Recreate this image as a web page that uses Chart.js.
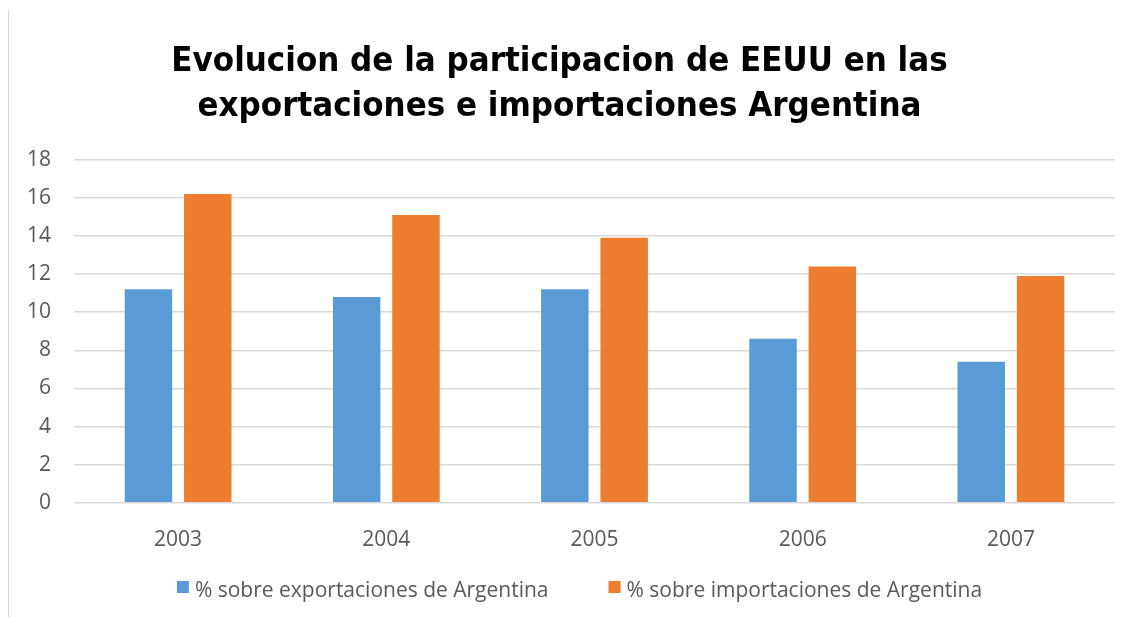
<!DOCTYPE html>
<html>
<head>
<meta charset="utf-8">
<script src="https://cdn.jsdelivr.net/npm/chart.js@4"></script>
<style>
  html, body { margin: 0; padding: 0; background: #fff; }
  #wrap { position: relative; width: 1131px; height: 617px; }
  #edge { position: absolute; left: 8px; top: 10px; width: 1px; height: 607px; background: #d9d9d9; }
</style>
</head>
<body>
<div id="wrap">
  <div id="edge"></div>
  <canvas id="chart" width="1131" height="617"></canvas>
</div>
<script>
const years = ['2003', '2004', '2005', '2006', '2007'];
const exportShare = [11.2, 10.8, 11.2, 8.6, 7.4];
const importShare = [16.2, 15.1, 13.9, 12.4, 11.9];

const tickColor = '#595959';
const gridColor = '#d9d9d9';
const textFont = 'Open Sans';

// legend drawn by hand so the gap between the two entries can match
const bottomLegend = {
  id: 'bottomLegend',
  afterDraw(chart) {
    const ctx = chart.ctx;
    const box = 12, gapText = 6, gapItem = 60, y = 591;
    ctx.save();
    ctx.font = '21px "' + textFont + '"';
    ctx.textBaseline = 'middle';
    const items = chart.data.datasets.map(ds => ({
      text: ds.label, color: ds.backgroundColor, w: ctx.measureText(ds.label).width
    }));
    let total = items.reduce((s, it) => s + box + gapText + it.w, 0) + gapItem * (items.length - 1);
    let x = chart.width / 2 + 14 - total / 2;
    items.forEach(it => {
      ctx.fillStyle = it.color;
      ctx.fillRect(x, y - 10, box, box);
      ctx.fillStyle = tickColor;
      ctx.fillText(it.text, x + box + gapText, y);
      x += box + gapText + it.w + gapItem;
    });
    ctx.restore();
  }
};

new Chart(document.getElementById('chart'), {
  type: 'bar',
  data: {
    labels: years,
    datasets: [
      { label: '% sobre exportaciones de Argentina', data: exportShare, backgroundColor: '#5b9bd5',
        categoryPercentage: 0.57, barPercentage: 0.8 },
      { label: '% sobre importaciones de Argentina', data: importShare, backgroundColor: '#ed7d31',
        categoryPercentage: 0.57, barPercentage: 0.8 }
    ]
  },
  options: {
    responsive: false,
    animation: false,
    layout: { padding: { left: 4, right: 16, top: 40, bottom: 39 } },
    plugins: {
      title: {
        display: true,
        text: ['Evolucion de la participacion de EEUU en las', 'exportaciones e importaciones Argentina'],
        color: '#000',
        font: { family: 'DejaVu Sans Condensed', size: 34.5, weight: 'bold', lineHeight: 1.3 },
        padding: { top: 0, bottom: 30 }
      },
      legend: { display: false },
      tooltip: { enabled: false }
    },
    scales: {
      x: {
        grid: { display: false, drawTicks: false },
        border: { display: false },
        ticks: { color: tickColor, font: { family: textFont, size: 21 }, padding: 25 }
      },
      y: {
        min: 0,
        max: 18,
        ticks: { stepSize: 2, color: tickColor, font: { family: textFont, size: 21 }, padding: 23 },
        grid: { color: gridColor, lineWidth: 1.5, drawTicks: false },
        border: { display: false }
      }
    }
  },
  plugins: [bottomLegend]
});
</script>
</body>
</html>
